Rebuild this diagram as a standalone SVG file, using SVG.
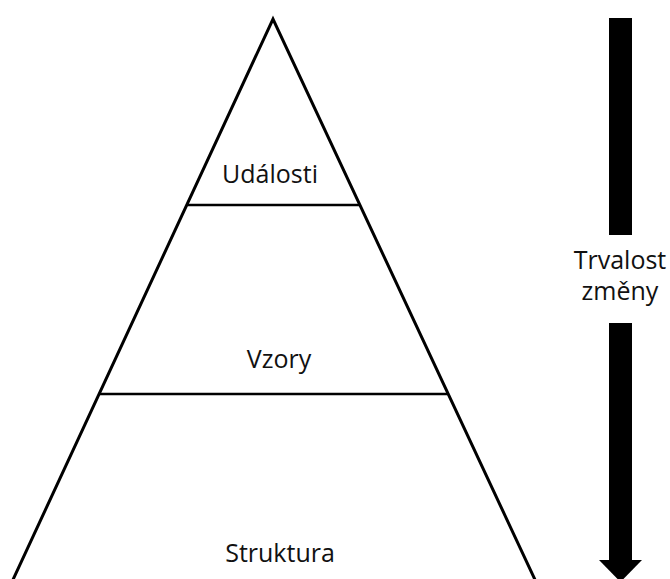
<svg xmlns="http://www.w3.org/2000/svg" width="670" height="579" viewBox="0 0 670 579">
  <style>
    .edge { fill: none; stroke: #000; stroke-width: 3; stroke-linejoin: miter; stroke-miterlimit: 10; }
    .tier { stroke: #000; stroke-width: 2.6; }
    .label { font-family: "Open Sans", "Liberation Sans", sans-serif; font-size: 25px; fill: #111; text-anchor: middle; }
  </style>
  <rect width="670" height="579" fill="#fff"/>

  <!-- pyramid outline -->
  <g id="pyramid">
    <polyline class="edge" points="11,584 273,19 537,584"/>
  </g>

  <!-- tier dividers -->
  <g id="connectors">
    <line class="tier" x1="187" y1="205" x2="359" y2="205"/>
    <line class="tier" x1="100" y1="394" x2="448" y2="394"/>
  </g>

  <g id="udalosti">
    <text class="label" x="270" y="183">Události</text>
  </g>
  <g id="vzory">
    <text class="label" x="279" y="368">Vzory</text>
  </g>
  <g id="struktura">
    <text class="label" x="280" y="562">Struktura</text>
  </g>

  <!-- downward arrow with caption in the gap -->
  <g id="arrow">
    <rect x="609" y="18" width="23" height="217" fill="#000"/>
    <rect x="609" y="323" width="23" height="238" fill="#000"/>
    <polygon points="599,560 642,560 620.5,582" fill="#000"/>
    <text class="label" x="620" y="269">Trvalost</text>
    <text class="label" x="620" y="300">změny</text>
  </g>
</svg>
